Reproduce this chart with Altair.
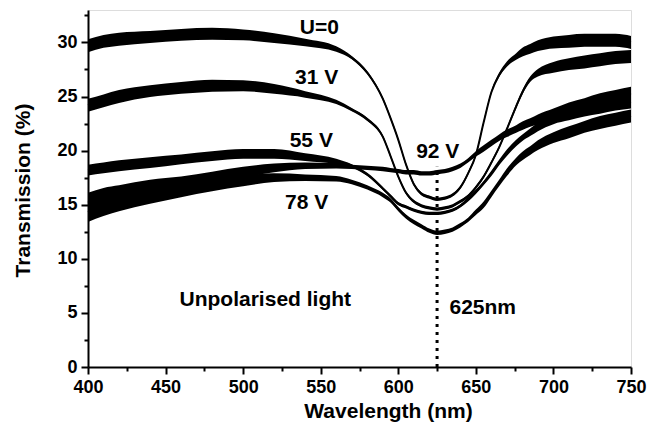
import altair as alt
import pandas as pd

# wavelength grid (nm)
wavelength = [400, 410, 420, 440, 460, 480, 500, 520, 540, 560, 570, 580, 590, 595, 600,
              605, 610, 615, 620, 625, 630, 635, 640, 645, 650, 655, 660, 665, 670, 676,
              680, 685, 690, 700, 710, 720, 730, 740, 750]

# transmission (%)
t_u0 = [29.7, 30.1, 30.3, 30.5, 30.7, 30.8, 30.7, 30.4, 30.0, 29.4, 28.6, 27.2, 24.8, 23.0, 21.0,
        18.7, 16.9, 16.0, 15.7, 15.5, 15.6, 15.9, 16.6, 17.9, 19.6, 22.6, 25.4, 27.0, 28.0, 28.7,
        29.1, 29.4, 29.7, 30.0, 30.1, 30.2, 30.2, 30.2, 30.0]
t_31 = [24.2, 24.6, 25.0, 25.5, 25.8, 26.0, 26.0, 25.7, 25.2, 24.5, 23.8, 22.9, 21.3, 19.5, 17.6,
        16.1, 15.3, 14.9, 14.7, 14.6, 14.7, 14.9, 15.3, 15.8, 16.6, 17.6, 18.9, 20.3, 22.0, 24.1,
        25.4, 26.6, 27.2, 27.7, 28.0, 28.2, 28.4, 28.6, 28.7]
t_55 = [18.2, 18.4, 18.6, 18.9, 19.2, 19.5, 19.7, 19.7, 19.4, 19.0, 18.6, 17.8, 16.5, 15.8, 15.1,
        14.8, 14.5, 14.3, 14.2, 14.2, 14.3, 14.5, 14.9, 15.5, 16.2, 17.0, 17.9, 18.9, 19.8, 20.7,
        21.2, 21.7, 22.2, 22.9, 23.3, 23.7, 24.0, 24.3, 24.5]
t_92 = [15.2, 15.7, 16.0, 16.6, 17.0, 17.5, 18.0, 18.4, 18.6, 18.6, 18.5, 18.4, 18.3, 18.2, 18.1,
        18.0, 18.0, 17.9, 17.9, 18.0, 18.1, 18.3, 18.6, 19.1, 19.7, 20.2, 20.7, 21.2, 21.6, 22.0,
        22.3, 22.6, 22.9, 23.4, 23.9, 24.3, 24.7, 25.0, 25.3]
t_78 = [14.3, 14.8, 15.2, 15.8, 16.3, 16.8, 17.2, 17.5, 17.5, 17.4, 17.1, 16.6, 15.9, 15.4, 14.6,
        13.9, 13.4, 13.0, 12.6, 12.4, 12.5, 12.7, 13.1, 13.6, 14.3, 15.0, 16.0, 17.0, 18.0, 19.0,
        19.5, 20.0, 20.5, 21.2, 21.7, 22.2, 22.6, 22.9, 23.2]

# half-width of the noisy trace (%)
n_u0 = [0.6, 0.6, 0.6, 0.55, 0.55, 0.55, 0.5, 0.45, 0.35, 0.25, 0.15, 0.15, 0.15, 0.15, 0.15,
        0.15, 0.15, 0.15, 0.15, 0.15, 0.15, 0.15, 0.15, 0.15, 0.15, 0.15, 0.15, 0.2, 0.25, 0.3,
        0.4, 0.45, 0.5, 0.55, 0.6, 0.6, 0.6, 0.6, 0.6]
n_31 = [0.6, 0.6, 0.6, 0.55, 0.55, 0.55, 0.5, 0.45, 0.3, 0.2, 0.15, 0.15, 0.15, 0.15, 0.15,
        0.15, 0.15, 0.15, 0.15, 0.15, 0.15, 0.15, 0.15, 0.15, 0.15, 0.15, 0.15, 0.15, 0.15, 0.2,
        0.2, 0.25, 0.35, 0.5, 0.55, 0.6, 0.6, 0.6, 0.6]
n_55 = [0.5, 0.5, 0.5, 0.5, 0.45, 0.45, 0.45, 0.45, 0.35, 0.25, 0.15, 0.15, 0.15, 0.15, 0.15,
        0.15, 0.15, 0.15, 0.15, 0.15, 0.15, 0.15, 0.15, 0.2, 0.2, 0.2, 0.25, 0.25, 0.3, 0.3,
        0.3, 0.35, 0.4, 0.45, 0.5, 0.55, 0.6, 0.6, 0.6]
n_92 = [0.9, 0.85, 0.8, 0.7, 0.6, 0.55, 0.5, 0.4, 0.3, 0.25, 0.2, 0.2, 0.2, 0.2, 0.2,
        0.2, 0.2, 0.2, 0.2, 0.2, 0.2, 0.2, 0.2, 0.2, 0.25, 0.3, 0.3, 0.3, 0.35, 0.35,
        0.4, 0.4, 0.45, 0.5, 0.55, 0.55, 0.6, 0.6, 0.6]
n_78 = [0.9, 0.85, 0.8, 0.7, 0.6, 0.55, 0.5, 0.4, 0.3, 0.25, 0.2, 0.2, 0.2, 0.2, 0.2,
        0.2, 0.2, 0.2, 0.2, 0.2, 0.2, 0.2, 0.2, 0.2, 0.25, 0.3, 0.3, 0.3, 0.35, 0.35,
        0.4, 0.4, 0.45, 0.5, 0.55, 0.55, 0.6, 0.6, 0.6]

curve_names = ["U=0", "31 V", "55 V", "92 V", "78 V"]
curve_values = [t_u0, t_31, t_55, t_92, t_78]
curve_noise = [n_u0, n_31, n_55, n_92, n_78]

# curve labels and annotations
label_text = ["U=0", "31 V", "55 V", "92 V", "78 V", "Unpolarised light", "625nm"]
label_x = [536.5, 533.5, 530.0, 611.5, 527.0, 459.0, 633.0]
label_y = [31.3, 26.7, 20.9, 19.9, 15.2, 6.2, 5.5]

marker_x = [625]
marker_y = [0]
marker_y2 = [18.5]

x_major = [400, 450, 500, 550, 600, 650, 700, 750]
x_minor = [425, 475, 525, 575, 625, 675, 725]
y_major = [0, 5, 10, 15, 20, 25, 30]
y_minor = [2.5, 7.5, 12.5, 17.5, 22.5, 27.5, 32.5]

rows = []
for name, ts, ns in zip(curve_names, curve_values, curve_noise):
    for w, t, n in zip(wavelength, ts, ns):
        rows.append({"curve": name, "wl": w, "t": t, "lo": t - n, "hi": t + n})
df = pd.DataFrame(rows)

labels_df = pd.DataFrame({"x": label_x, "y": label_y, "text": label_text})
marker_df = pd.DataFrame({"x": marker_x, "y": marker_y, "y2": marker_y2})

FONT = "Liberation Sans"
xs = alt.Scale(domain=[400, 750], nice=False, zero=False)
ys = alt.Scale(domain=[0, 33], nice=False)

ax_x_major = alt.Axis(values=x_major, tickSize=7, tickWidth=2, tickColor="black",
                      domainColor="black", domainWidth=2, labelFont=FONT, labelFontSize=18,
                      labelFontWeight="bold", labelColor="black", labelPadding=4,
                      labelFlush=False, grid=False, orient="bottom",
                      title="Wavelength (nm)", titleFont=FONT, titleFontSize=21,
                      titleFontWeight="bold", titleColor="black", titleX=300, titleY=44,
                      titleBaseline="middle", titleAlign="center")
ax_y_major = alt.Axis(values=y_major, tickSize=7, tickWidth=2, tickColor="black",
                      domainColor="black", domainWidth=2, labelFont=FONT, labelFontSize=18,
                      labelFontWeight="bold", labelColor="black", labelPadding=4,
                      grid=False, orient="left",
                      title="Transmission (%)", titleFont=FONT, titleFontSize=21,
                      titleFontWeight="bold", titleColor="black", titleX=-65, titleY=180,
                      titleBaseline="middle", titleAlign="center", titleAngle=270)
ax_x_minor = alt.Axis(values=x_minor, tickSize=4, tickWidth=2, tickColor="black",
                      domain=False, labels=False, grid=False, orient="bottom", title=None)
ax_y_minor = alt.Axis(values=y_minor, tickSize=4, tickWidth=2, tickColor="black",
                      domain=False, labels=False, grid=False, orient="left", title=None)

bands = alt.Chart(df).mark_area(color="black", interpolate="monotone", opacity=1).encode(
    x=alt.X("wl:Q", scale=xs, axis=ax_x_major),
    y=alt.Y("lo:Q", scale=ys, axis=ax_y_major),
    y2="hi:Q",
    detail="curve:N",
)

lines = alt.Chart(df).mark_line(color="black", strokeWidth=2, interpolate="monotone").encode(
    x=alt.X("wl:Q", scale=xs, axis=None),
    y=alt.Y("t:Q", scale=ys, axis=None),
    detail="curve:N",
)

marker = alt.Chart(marker_df).mark_rule(color="black", strokeWidth=3, strokeDash=[3, 5]).encode(
    x=alt.X("x:Q", scale=xs, axis=ax_x_minor),
    y=alt.Y("y:Q", scale=ys, axis=ax_y_minor),
    y2="y2:Q",
)

texts = alt.Chart(labels_df).mark_text(align="left", baseline="middle", font=FONT,
                                       fontSize=21, fontWeight="bold", color="black").encode(
    x=alt.X("x:Q", scale=xs, axis=None),
    y=alt.Y("y:Q", scale=ys, axis=None),
    text="text:N",
)

chart = alt.layer(bands, lines, marker, texts).resolve_axis(
    x="independent", y="independent"
).properties(
    width=543, height=357,
    autosize=alt.AutoSizeParams(type="none"),
    padding={"left": 80, "top": 2, "right": 16, "bottom": 58},
).configure_view(stroke=None).configure(background="white")

chart.save("out.html", embed_options={"renderer": "svg", "actions": False})
